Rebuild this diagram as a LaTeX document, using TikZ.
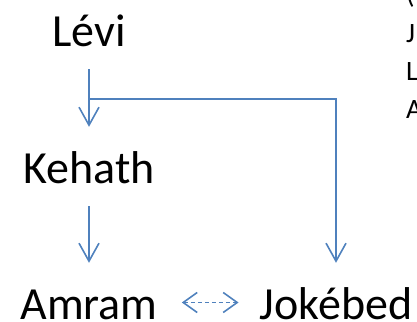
\documentclass[tikz,border=0pt]{standalone}
\usepackage{fontspec}
\setmainfont{Carlito}
\usetikzlibrary{arrows.meta,calc}
\definecolor{lineblue}{HTML}{4F81BD}
\tikzset{
  person/.style={font=\fontsize{46}{55}\selectfont, inner xsep=0pt, inner ysep=23pt,
    text height=33pt, text depth=0pt, anchor=base},
  link/.style={draw=lineblue, line width=1.6pt, -{Straight Barb[length=18pt,width=20pt]}},
  note/.style={font=\fontsize{28}{34}\selectfont, inner sep=0pt, anchor=base west}
}
\begin{document}
\begin{tikzpicture}[x=1pt,y=-1pt]
\useasboundingbox (0,0) rectangle (417,321);
\clip (0,0) rectangle (417,321);

% Family members
\node[person] (levi) at (89,46) {Lévi};
\node[person] (kehath) at (89,183) {Kehath};
\node[person] (amram) at (89,319) {Amram};
\node[person] (jokebed) at (336,319) {Jokébed};

% Side notes (cut off at the right edge)
\node[note] (n0) at (406,4) {(};
\node[note] (n1) at (406,42) {J};
\node[note] (n2) at (406,80) {L};
\node[note] (n3) at (406,118) {A};

% Descent
\coordinate (fork) at ($(levi.south)!0.52!(kehath.north)$);
\draw[link] (levi.south) -- (kehath.north);
\draw[link] (fork) -| (jokebed.north);
\draw[link] (kehath.south) -- (amram.north);

% Marriage
\draw[link, dash pattern=on 4pt off 3pt,
  {Straight Barb[length=14pt,width=20pt]}-{Straight Barb[length=14pt,width=20pt]},
  shorten <=24pt, shorten >=21pt] (amram) -- (jokebed);
\end{tikzpicture}
\end{document}
